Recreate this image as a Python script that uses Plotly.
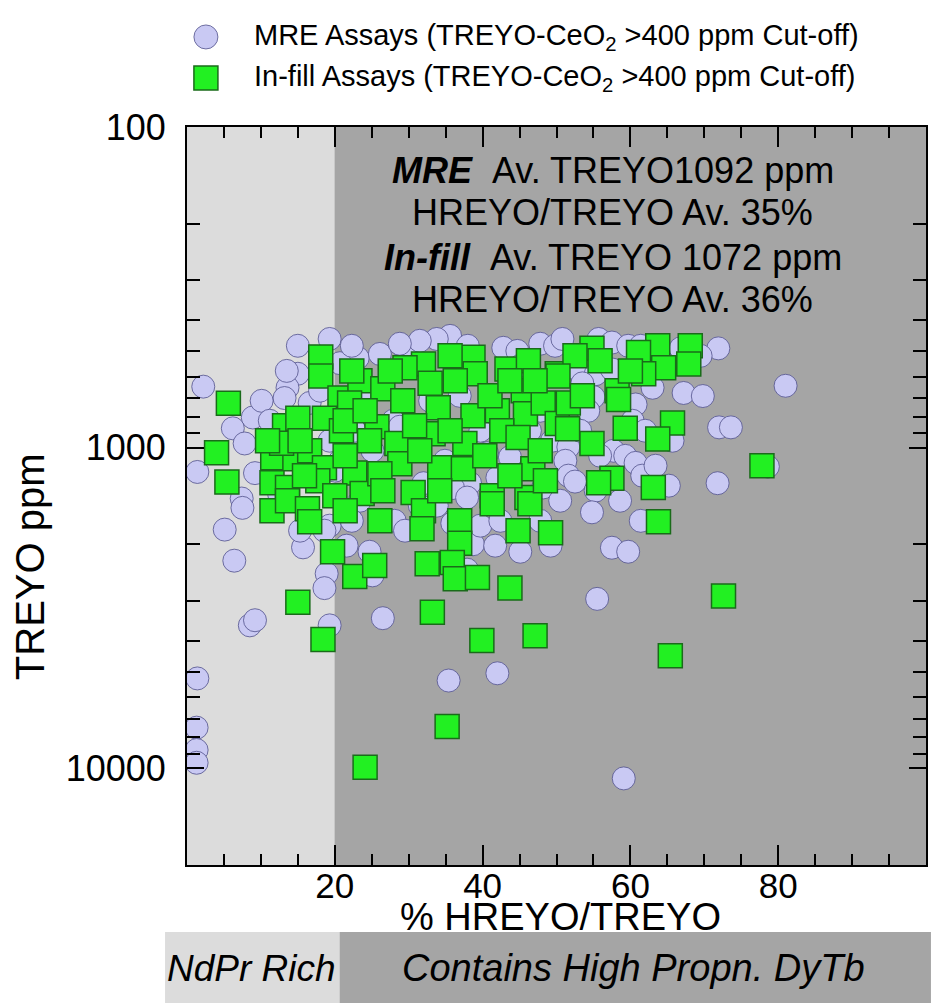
import plotly.graph_objects as go
import numpy as np

# ---- data ----
mre_x = [2.2, 1.4, 1.4, 1.3, 1.3, 1.3, 8.9, 6.2, 7.8, 9.2, 15.0, 13.6, 13.2, 16.6, 23.1, 7.4, 7.5, 5.1, 6.4, 8.5,
         9.2, 15.7, 19.3, 21.6, 18.9, 18.6, 19.3, 26.5, 35.4, 42.0, 59.1, 45.1, 49.2, 38.7, 35.9, 37.9, 25.1, 35.6, 33.8, 29.5,
         26.1, 38.0, 42.8, 44.7, 47.8, 49.8, 27.9, 28.8, 25.1, 40.6, 43.7, 46.4, 49.4, 42.0, 38.3, 36.0, 37.9, 32.0, 48.2, 50.8,
         55.7, 57.5, 59.7, 52.5, 55.3, 57.5, 53.5, 55.0, 60.7, 63.0, 54.3, 51.6, 51.2, 60.3, 57.7, 59.3, 60.7, 61.6, 51.6, 52.5,
         55.3, 65.2, 71.8, 67.2, 69.8, 71.9, 69.5, 72.0, 73.6, 81.0, 78.6, 54.8, 55.5, 57.5, 59.7, 15.0, 19.3, 20.7, 13.5, 18.0,
         12.5, 15.3, 18.6, 24.7, 28.1, 29.5, 33.8, 41.7, 50.5, 47.8, 39.7, 64.0, 66.8, 61.4, 45.1, 31.5, 28.8, 22.3, 24.1, 22.7,
         20.7, 23.4, 31.5, 42.4, 62.0, 63.4, 53.2, 55.9, 58.6, 61.4, 10.1, 11.2, 19.3, 20.0, 22.3, 36.9, 32.9, 39.7, 34.9, 47.8,
         65.7]
mre_y = [645, 1190, 5240, 7460, 8760, 9600, 805, 870, 970, 1200, 588, 650, 700, 725, 525, 1440, 1540, 1800, 2250, 3580,
         3450, 2045, 1750, 2020, 2470, 2740, 3580, 3400, 5320, 5050, 10740, 2110, 2020, 2000, 1720, 2400, 2500, 448, 458, 492,
         510, 481, 488, 499, 474, 481, 824, 860, 1022, 1040, 1070, 885, 951, 1240, 1290, 1335, 1430, 1290, 1330, 458,
         458, 470, 481, 565, 590, 570, 630, 695, 733, 650, 767, 995, 1098, 824, 1022, 1060, 1115, 1222, 1222, 1275,
         1360, 1313, 1290, 675, 690, 490, 517, 864, 864, 641, 1145, 1590, 2960, 2050, 2110, 481, 458, 545, 576, 664,
         1410, 1814, 1814, 2110, 1690, 1814, 1516, 2020, 1463, 1690, 1750, 499, 490, 481, 555, 464, 474, 481, 689, 885,
         1098, 1463, 1516, 1690, 885, 1138, 885, 1059, 1463, 1690, 714, 824, 951, 1179, 1690, 689, 714, 885, 1098, 767,
         951]

infill_x = [5.6, 4.0, 5.4, 18.1, 18.1, 20.7, 23.4, 22.3, 22.0, 13.2, 15.0, 18.6, 20.9, 11.6, 14.6, 16.6, 18.6, 11.5, 13.6, 17.7,
            22.7, 23.7, 12.8, 10.9, 11.5, 13.6, 16.3, 16.6, 19.7, 22.7, 15.0, 18.4, 24.1, 35.2, 38.7, 32.0, 29.5, 43.3, 46.2, 39.0,
            36.3, 32.9, 26.5, 45.5, 29.2, 34.0, 38.7, 42.0, 45.8, 48.2, 25.7, 28.4, 33.3, 37.6, 42.6, 44.8, 28.8, 34.2, 37.4, 26.1,
            46.8, 41.3, 46.0, 30.6, 26.5, 50.1, 50.1, 54.8, 52.5, 63.7, 68.1, 61.1, 67.9, 64.5, 61.8, 50.2, 58.2, 58.4, 51.6, 59.3,
            65.7, 51.5, 63.7, 54.8, 57.5, 55.7, 63.1, 26.1, 32.0, 31.8, 36.9, 36.9, 41.3, 46.4, 44.8, 49.2, 25.4, 32.5, 35.9, 36.3,
            39.3, 43.7, 33.2, 39.9, 47.1, 65.4, 72.6, 77.8, 63.8, 21.4, 24.7, 24.1, 21.4, 27.5, 35.6, 30.8, 35.6, 40.3, 43.7, 47.8,
            48.5, 31.5, 34.2, 41.0, 43.7, 47.1, 15.9, 15.3, 20.0, 21.4, 55.9, 60.0, 53.5]
infill_y = [727, 1036, 1280, 521, 597, 700, 618, 576, 725, 854, 810, 810, 885, 1075, 1082, 1022, 1154, 1285, 1330, 1267,
            1200, 1390, 968, 951, 1571, 1463, 1550, 1700, 2110, 2520, 3030, 3960, 9920, 7400, 522, 548, 563, 568, 536, 588,
            618, 630, 655, 664, 714, 750, 795, 767, 784, 725, 860, 970, 905, 970, 885, 930, 1122, 1154, 1162, 1205,
            1162, 1411, 1430, 1380, 1361, 840, 588, 490, 517, 481, 481, 505, 548, 563, 588, 597, 664, 707, 725, 870,
            838, 872, 940, 970, 1245, 1285, 1330, 1690, 1571, 1790, 1690, 1985, 1495, 1495, 1814, 1840, 2330, 2300, 2280, 2560,
            2540, 2740, 3260, 3990, 3860, 4450, 2900, 1138, 1700, 824, 951, 767, 1059, 576, 517, 854, 885, 1059, 1222, 1022,
            1267, 1022, 1361, 689, 618, 618, 1222, 951, 1411, 1571, 536, 576, 689]

x_tick_vals = [20, 40, 60, 80]
x_tick_text = ["20", "40", "60", "80"]
y_tick_vals = [100, 1000, 10000]
y_tick_text = ["100", "1000", "10000"]
y_minor_vals = [200, 300, 400, 500, 600, 700, 800, 900,
                2000, 3000, 4000, 5000, 6000, 7000, 8000, 9000, 20000]

mre_name = "MRE Assays (TREYO-CeO<sub>2</sub> &gt;400 ppm Cut-off)"
infill_name = "In-fill Assays (TREYO-CeO<sub>2</sub> &gt;400 ppm Cut-off)"
summary_lines = ["<b><i>MRE</i></b>&nbsp;&nbsp;Av. TREYO1092 ppm",
                 "HREYO/TREYO Av. 35%",
                 "<b><i>In-fill</i></b>&nbsp;&nbsp;Av. TREYO 1072 ppm",
                 "HREYO/TREYO Av. 36%"]

FONT = "Liberation Sans, Arial, sans-serif"
CIRCLE_FILL = "#c9c9f3"
CIRCLE_LINE = "#50508a"
SQUARE_FILL = "#22f022"
SQUARE_LINE = "#1a6b1a"
LIGHT = "#dcdcdc"
DARK = "#a5a5a5"

fig = go.Figure()
fig.add_trace(go.Scatter(
    x=mre_x, y=mre_y, mode="markers", name=mre_name, showlegend=False,
    marker=dict(symbol="circle", size=23, color=CIRCLE_FILL,
                line=dict(color=CIRCLE_LINE, width=0.8))))
fig.add_trace(go.Scatter(
    x=infill_x, y=infill_y, mode="markers", name=infill_name, showlegend=False,
    marker=dict(symbol="square", size=24, color=SQUARE_FILL,
                line=dict(color=SQUARE_LINE, width=1.5))))

shapes = [
    dict(type="rect", xref="x", yref="y domain", x0=0, x1=20, y0=0, y1=1,
         fillcolor=LIGHT, line=dict(width=0), layer="below"),
    dict(type="rect", xref="x", yref="y domain", x0=20, x1=100, y0=0, y1=1,
         fillcolor=DARK, line=dict(width=0), layer="below"),
    # category band under the chart
    dict(type="rect", xref="paper", yref="paper", x0=-0.0297, x1=0.2065, y0=-0.187, y1=-0.0908,
         fillcolor=LIGHT, line=dict(width=0)),
    dict(type="rect", xref="paper", yref="paper", x0=0.2065, x1=1.0067, y0=-0.187, y1=-0.0908,
         fillcolor=DARK, line=dict(width=0)),
    # legend symbols
    dict(type="circle", xref="paper", yref="paper", xsizemode="pixel", ysizemode="pixel",
         xanchor=0.0256, yanchor=1.122, x0=-12, x1=12, y0=-12, y1=12,
         fillcolor=CIRCLE_FILL, line=dict(color=CIRCLE_LINE, width=0.8)),
    dict(type="rect", xref="paper", yref="paper", xsizemode="pixel", ysizemode="pixel",
         xanchor=0.0256, yanchor=1.0664, x0=-12, x1=12, y0=-12, y1=12,
         fillcolor=SQUARE_FILL, line=dict(color=SQUARE_LINE, width=1.5)),
]

annotations = [
    dict(text=mre_name, xref="paper", yref="paper", x=0.0877, y=1.122, xanchor="left", yanchor="middle",
         showarrow=False, font=dict(family=FONT, size=29, color="black")),
    dict(text=infill_name, xref="paper", yref="paper", x=0.0877, y=1.0664, xanchor="left", yanchor="middle",
         showarrow=False, font=dict(family=FONT, size=29, color="black")),
    dict(text="% HREYO/TREYO", xref="paper", yref="paper", x=0.505, y=-0.071, xanchor="center", yanchor="middle",
         showarrow=False, font=dict(family=FONT, size=38, color="black")),
    dict(text="TREYO ppm", xref="paper", yref="paper", x=-0.212, y=0.404, xanchor="center", yanchor="middle",
         textangle=-90, showarrow=False, font=dict(family=FONT, size=40, color="black")),
    dict(text="<i>NdPr Rich</i>", xref="paper", yref="paper", x=0.0877, y=-0.1396, xanchor="center", yanchor="middle",
         showarrow=False, font=dict(family=FONT, size=37, color="black")),
    dict(text="<i>Contains High Propn. DyTb</i>", xref="paper", yref="paper", x=0.6046, y=-0.1396,
         xanchor="center", yanchor="middle", showarrow=False, font=dict(family=FONT, size=38, color="black")),
]
for txt, yy in zip(summary_lines, [0.9417, 0.8835, 0.8225, 0.7656]):
    annotations.append(dict(text=txt, xref="x", yref="paper", x=57.6, y=yy, xanchor="center", yanchor="middle",
                            showarrow=False, font=dict(family=FONT, size=36, color="black")))

fig.update_layout(
    width=933, height=1003,
    margin=dict(l=187, r=5, t=127, b=138),
    paper_bgcolor="white", plot_bgcolor=DARK,
    font=dict(family=FONT, color="black"),
    shapes=shapes, annotations=annotations, showlegend=False,
)
fig.update_xaxes(
    range=[0, 100], showgrid=False, zeroline=False,
    showline=True, linecolor="black", linewidth=2, mirror="allticks",
    ticks="inside", ticklen=20, tickwidth=2, tickcolor="black",
    tickmode="array", tickvals=x_tick_vals, ticktext=x_tick_text,
    ticklabelstandoff=-11,
    tickfont=dict(family=FONT, size=35, color="black"),
    minor=dict(ticks="inside", dtick=5, tick0=0, ticklen=11, tickwidth=2, tickcolor="black", showgrid=False),
)
fig.update_yaxes(
    type="log", range=[np.log10(20000), 2], showgrid=False, zeroline=False,
    showline=True, linecolor="black", linewidth=2, mirror="allticks",
    ticks="inside", ticklen=17, tickwidth=2, tickcolor="black",
    tickmode="array", tickvals=y_tick_vals, ticktext=y_tick_text,
    ticklabelstandoff=12,
    tickfont=dict(family=FONT, size=36, color="black"),
    minor=dict(ticks="inside", tickvals=y_minor_vals, ticklen=13, tickwidth=2, tickcolor="black", showgrid=False),
)

fig.write_html("out.html", config={"displayModeBar": False},
               post_script="document.body.style.margin='0';")
